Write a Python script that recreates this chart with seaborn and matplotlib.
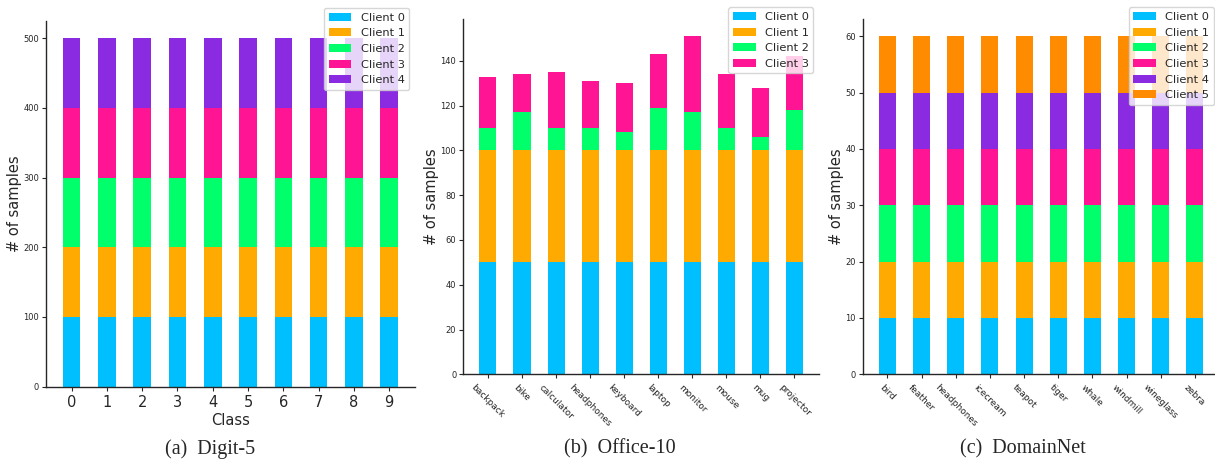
import matplotlib
matplotlib.use("Agg")
import matplotlib.pyplot as plt
from matplotlib.patches import Patch
import pandas as pd
import seaborn as sns

# ---------------- data ----------------
client_names = ["Client 0", "Client 1", "Client 2", "Client 3", "Client 4", "Client 5"]
client_colors = ["#00BFFF", "#FFAA00", "#00FF6A", "#FF1493", "#8A2BE2", "#FF8C00"]

# Digit-5: samples per class for each client
digit_classes = ["0", "1", "2", "3", "4", "5", "6", "7", "8", "9"]
digit_client0 = [100, 100, 100, 100, 100, 100, 100, 100, 100, 100]
digit_client1 = [100, 100, 100, 100, 100, 100, 100, 100, 100, 100]
digit_client2 = [100, 100, 100, 100, 100, 100, 100, 100, 100, 100]
digit_client3 = [100, 100, 100, 100, 100, 100, 100, 100, 100, 100]
digit_client4 = [100, 100, 100, 100, 100, 100, 100, 100, 100, 100]

# Office-10
office_classes = ["backpack", "bike", "calculator", "headphones", "keyboard",
                  "laptop", "monitor", "mouse", "mug", "projector"]
office_client0 = [50, 50, 50, 50, 50, 50, 50, 50, 50, 50]
office_client1 = [50, 50, 50, 50, 50, 50, 50, 50, 50, 50]
office_client2 = [10, 17, 10, 10, 8, 19, 17, 10, 6, 18]
office_client3 = [23, 17, 25, 21, 22, 24, 34, 24, 22, 24]

# DomainNet
domain_classes = ["bird", "feather", "headphones", "icecream", "teapot",
                  "tiger", "whale", "windmill", "wineglass", "zebra"]
domain_client0 = [10, 10, 10, 10, 10, 10, 10, 10, 10, 10]
domain_client1 = [10, 10, 10, 10, 10, 10, 10, 10, 10, 10]
domain_client2 = [10, 10, 10, 10, 10, 10, 10, 10, 10, 10]
domain_client3 = [10, 10, 10, 10, 10, 10, 10, 10, 10, 10]
domain_client4 = [10, 10, 10, 10, 10, 10, 10, 10, 10, 10]
domain_client5 = [10, 10, 10, 10, 10, 10, 10, 10, 10, 10]

captions = ["(a)  Digit-5", "(b)  Office-10", "(c)  DomainNet"]

# ---------------- drawing ----------------
sns.set_style("ticks")
plt.rcParams["font.family"] = ["DejaVu Sans"]


def stacked_panel(ax, classes, series, rotate):
    names = client_names[:len(series)]
    rows = []
    for name, counts in zip(names, series):
        for i, c in enumerate(counts):
            rows.append({"pos": i, "client": name, "count": c})
    df = pd.DataFrame(rows)
    palette = dict(zip(names, client_colors))
    # first hue level is stacked on top, so reverse to keep Client 0 at the bottom
    sns.histplot(data=df, x="pos", weights="count", hue="client",
                 hue_order=names[::-1], palette=palette, multiple="stack",
                 discrete=True, shrink=0.5, alpha=1, linewidth=0,
                 edgecolor="none", legend=False, ax=ax)
    n = len(classes)
    ax.set_xlim(-0.725, n - 1 + 0.725)
    ax.set_xticks(range(n))
    if rotate:
        ax.set_xticklabels(classes, rotation=-45, ha="center", fontsize=6.5)
        ax.set_xlabel("")
    else:
        ax.set_xticklabels(classes, fontsize=10.5)
        ax.set_xlabel("Class", fontsize=10.5, labelpad=2)
    ax.tick_params(axis="y", labelsize=6, length=3, width=0.8, pad=2)
    ax.tick_params(axis="x", length=3, width=0.8, pad=3)
    ax.set_ylabel("# of samples", fontsize=10.5, labelpad=1)
    sns.despine(ax=ax)
    for side in ("left", "bottom"):
        ax.spines[side].set_linewidth(1.0)
    handles = [Patch(facecolor=palette[nm], edgecolor="none", label=nm) for nm in names]
    ax.legend(handles=handles, loc="upper right", bbox_to_anchor=(1, 1.05),
              fontsize=8.2, borderaxespad=0.5)


fig = plt.figure(figsize=(12.15, 4.61), dpi=100)
ax_a = fig.add_axes([0.0379, 0.1612, 0.3035, 0.7939])
ax_b = fig.add_axes([0.3813, 0.1881, 0.2928, 0.7700])
ax_c = fig.add_axes([0.7100, 0.1881, 0.2938, 0.7700])

stacked_panel(ax_a, digit_classes,
              [digit_client0, digit_client1, digit_client2, digit_client3, digit_client4],
              rotate=False)
stacked_panel(ax_b, office_classes,
              [office_client0, office_client1, office_client2, office_client3],
              rotate=True)
stacked_panel(ax_c, domain_classes,
              [domain_client0, domain_client1, domain_client2, domain_client3,
               domain_client4, domain_client5],
              rotate=True)

for x, text in zip([209.7 / 1215, 620 / 1215, 1023 / 1215], captions):
    fig.text(x, 1 - 449 / 461, text, ha="center", va="center",
             fontsize=14.5, family=["Liberation Serif", "DejaVu Serif"])

fig.savefig("out.png", dpi=100)
